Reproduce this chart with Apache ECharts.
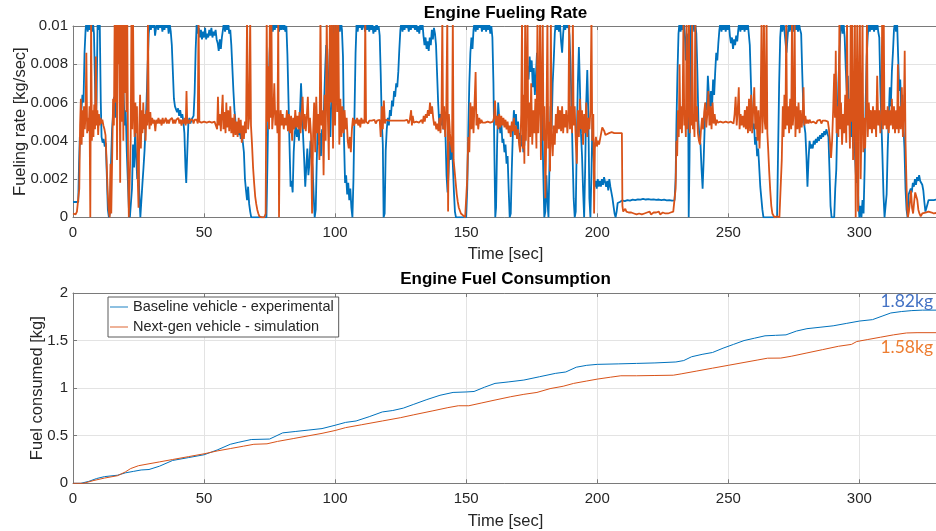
<!DOCTYPE html>
<html>
<head>
<meta charset="utf-8">
<script src="https://cdn.jsdelivr.net/npm/echarts@6/dist/echarts.min.js"></script>
<style>html,body{margin:0;padding:0;background:#fff;}#c{width:936px;height:531px;}</style>
</head>
<body>
<div id="c"></div>
<script>
// ---- Tick labels / axis settings (data-side) ----
const timeTicks = [0, 50, 100, 150, 200, 250, 300];
const rateTicks = [0, 0.002, 0.004, 0.006, 0.008, 0.01];
const fuelTicks = [0, 0.5, 1, 1.5, 2];
const seriesNames = ['Baseline vehicle - experimental', 'Next-gen vehicle - simulation'];

// ---- Engine fueling rate, [time s, rate g/s] (converted to kg/s for plotting) ----
const baselineRate = [[0,0.8],[0.5,0.85],[1,0.8],[1.5,0.85],[2,0.8],[2.3,2.8],[2.6,4.2],[2.9,3.8],[3.2,5.6],[3.6,6.4],[4,6],[4.4,8.6],[4.8,9.8],[5.2,10.3],[5.6,9.7],[6,10.2],[6.4,9.8],[6.8,10.3],[7.2,9.7],[7.6,10.2],[8,9.6],[8.4,7],[8.7,5],[9,6.2],[9.4,10.3],[9.8,9.8],[10.2,10.2],[10.6,6],[10.9,4.2],[11.3,3.9],[11.7,4.1],[12.1,3.7],[12.5,3.9],[12.9,2.2],[13.3,0.4],[13.7,0],[14.1,0.2],[14.5,2.8],[14.9,4.6],[15.3,5.4],[15.7,6.3],[16.1,5.2],[16.5,7.8],[16.9,10.2],[17.3,9.8],[17.7,10.3],[18.1,8],[18.5,10.2],[18.9,9.7],[19.3,6.5],[19.7,4.8],[20.1,5.6],[20.5,3.5],[20.9,2],[21.3,0.5],[21.7,0],[22.1,0],[22.5,1.5],[22.9,3.8],[23.3,2.6],[23.7,4.4],[24.1,3.2],[24.5,2],[24.9,3],[25.3,1.2],[25.7,0],[26.1,0],[26.5,1.8],[26.9,2.6],[27.3,3.5],[27.7,4.8],[28.1,6.2],[28.5,8],[28.9,9.6],[29.3,10.2],[29.7,9.8],[30.1,10.2],[30.5,9.9],[30.9,10.3],[31.3,9.5],[31.7,9.9],[32.1,10.2],[32.5,9.8],[32.9,10.3],[33.3,9.9],[33.7,10.2],[34.1,9.7],[34.5,10.1],[34.9,9.8],[35.3,10.3],[35.7,9.9],[36.1,10.2],[36.5,9.6],[36.9,10.1],[37.3,9.7],[37.7,9],[38.1,7.6],[38.5,6.2],[38.9,5.8],[39.3,5.9],[39.7,5.5],[40.1,5.7],[40.5,5.3],[40.9,5.6],[41.3,5.2],[41.7,5.4],[42.1,5],[42.5,4.4],[42.9,2.6],[43.2,1.8],[43.6,3.4],[44,4.9],[44.4,5.2],[44.8,4.9],[45.2,5.1],[45.6,5],[46,5.3],[46.4,6.5],[46.8,8.8],[47.2,10.2],[47.6,9.6],[48,9.9],[48.4,9.4],[48.8,9.8],[49.2,9.3],[49.6,9.7],[50,9.4],[50.4,9.9],[50.8,9.3],[51.2,9.6],[51.6,9.4],[52,9.8],[52.4,9.5],[52.8,9.9],[53.2,9.4],[53.6,9.7],[54,9.5],[54.4,9.8],[54.8,9.3],[55.2,9.1],[55.6,8.7],[56,9.3],[56.4,8.8],[56.8,9.4],[57.2,9.8],[57.6,10.2],[58,9.7],[58.4,10.1],[58.8,9.8],[59.2,10.2],[59.6,9.6],[60,9.8],[60.4,9],[60.8,7.8],[61.2,6.6],[61.6,5.6],[62,5],[62.4,4.6],[62.8,4.9],[63.2,4.3],[63.6,4.6],[64,4.1],[64.4,4.4],[64.8,3.9],[65.2,3.4],[65.6,2],[66,1.4],[66.4,0.9],[66.8,1.6],[67.2,0.7],[67.6,0.3],[68,0],[70,0],[72,0],[73.8,0],[74.2,3],[74.6,6.5],[75,8.6],[75.4,9.8],[75.8,10.2],[76.2,9.7],[76.6,10.2],[77,9.8],[77.4,10.3],[77.8,9.9],[78.2,10.2],[78.6,9.7],[79,10.1],[79.4,9.8],[79.8,10.3],[80.2,9.8],[80.6,10.1],[81,9.7],[81.4,10],[81.8,8.5],[82.2,6.2],[82.6,3.8],[83,1.6],[83.4,1.9],[83.8,1.3],[84.2,3.4],[84.6,4.4],[85,4.8],[85.4,4.2],[85.8,4.6],[86.2,4],[86.6,5.5],[87,7],[87.4,5.6],[87.8,4.2],[88.2,3],[88.6,1.6],[89,2.6],[89.4,3.6],[89.8,2.2],[90.2,2.8],[90.6,4],[91,3.2],[91.4,2.6],[91.8,1.2],[92.2,0],[92.6,0.4],[93,3],[93.4,5],[93.8,3.8],[94.2,4.4],[94.6,3.2],[95,4.6],[95.4,4.2],[95.8,6],[96.2,7.7],[96.6,9],[97,8.8],[97.4,7.2],[97.8,5.6],[98.2,4.2],[98.6,6.5],[99,8.8],[99.4,10.2],[99.8,9.6],[100.2,10.1],[100.6,8],[101,9.8],[101.4,10.2],[101.8,9.7],[102.2,10.3],[102.6,9.8],[103,8.4],[103.4,4],[103.8,1.8],[104.2,2.2],[104.6,1.2],[105,1.8],[105.4,0.9],[105.8,1.5],[106.2,0.5],[106.6,0],[107,2],[107.4,5.5],[107.8,8.6],[108.2,10.2],[108.6,9.7],[109,10.2],[109.4,9.9],[109.8,10.3],[110.2,9.8],[110.6,9.9],[111,10.2],[111.4,9.7],[111.8,10.1],[112.2,9.8],[112.6,10.3],[113,9.7],[113.4,10.2],[113.8,9.8],[114.2,10.1],[114.6,9.6],[115,10],[115.4,9.7],[115.8,10.2],[116.2,9.8],[116.6,10],[117,9.5],[117.4,7.5],[117.8,5],[118.2,3.8],[118.5,0],[118.9,0.2],[119.3,3.5],[119.7,4.6],[120.1,5.2],[120.5,4.8],[120.9,5.6],[121.3,5.3],[121.7,6.1],[122.1,5.8],[122.5,6.6],[122.9,6.3],[123.3,7],[123.7,6.8],[124.1,7.6],[124.5,8.8],[124.9,9.8],[125.3,10.2],[125.7,9.7],[126.1,10.2],[126.5,9.8],[126.9,10.3],[127.3,9.9],[127.7,10.1],[128.1,9.7],[128.5,10.2],[128.9,9.8],[129.3,10.3],[129.7,9.9],[130.1,10.1],[130.5,9.8],[130.9,10.2],[131.3,9.7],[131.7,10],[132.1,9.6],[132.5,10.1],[132.9,9.8],[133.3,10.2],[133.7,9.5],[134.1,9],[134.5,9.4],[134.9,8.8],[135.3,9.2],[135.7,8.7],[136.1,9.4],[136.5,9],[136.9,9.8],[137.3,9.3],[137.7,9.9],[138.1,9.6],[138.5,9],[138.9,7.5],[139.3,6],[139.7,4.9],[140.1,5.4],[140.5,4.8],[140.9,5.2],[141.3,4.6],[141.7,5],[142.1,4.3],[142.5,2.2],[142.9,1.3],[143.3,2.4],[143.7,4],[144.1,3],[144.5,4.2],[144.9,2.8],[145.3,1.4],[145.7,0.3],[146.1,0],[148,0],[150,0],[150.4,1.5],[150.8,4.5],[151.2,7],[151.6,8.6],[152,9.4],[152.4,8.8],[152.8,9.8],[153.2,10.2],[153.6,9.7],[154,10.2],[154.4,9.8],[154.8,10.3],[155.2,9.9],[155.6,10.2],[156,9.7],[156.4,10.1],[156.8,9.8],[157.2,10.3],[157.6,9.7],[158,10.2],[158.4,9.8],[158.8,10.1],[159.2,9.6],[159.6,10],[160,9.4],[160.4,7],[160.8,3],[161.1,0],[161.4,0.5],[161.8,3.8],[162.2,6],[162.6,5.2],[163,4.4],[163.4,5],[163.8,3.9],[164.2,4.1],[164.6,3.4],[165,3.8],[165.4,2.8],[165.8,3.2],[166.2,1.5],[166.6,0],[167,0.2],[167.4,2.5],[167.8,4.4],[168.2,5.6],[168.6,4.8],[169,5.4],[169.4,4.2],[169.8,5],[170.2,3.9],[170.6,4.4],[171,3.7],[171.4,4.3],[171.8,3.4],[172.2,3.8],[172.6,4.8],[173,6.6],[173.4,7.9],[173.8,7.2],[174.2,8.4],[174.6,7.6],[175,8.2],[175.4,6.8],[175.8,7.8],[176.2,6.4],[176.6,7.4],[177,8.6],[177.4,7],[177.8,7.6],[178.2,6.8],[178.6,7.4],[179,5.2],[179.4,2.4],[179.8,0],[180.2,0.3],[180.6,2.2],[181,0.8],[181.4,0],[181.8,3],[182.2,5.8],[182.6,4.6],[183,7],[183.4,8.2],[183.8,9.6],[184.2,10.2],[184.6,9.8],[185,10.2],[185.4,9.7],[185.8,10.1],[186.2,9.2],[186.6,8.6],[187,9.6],[187.4,10.2],[187.8,9.8],[188.2,10.3],[188.6,9.9],[189,10.1],[189.4,9.5],[189.8,8],[190.2,5.8],[190.6,3.2],[191,1],[191.4,0],[191.8,0.3],[192.2,4],[192.6,7],[193,8.9],[193.4,6.8],[193.8,4.4],[194.2,3.2],[194.6,1.4],[195,0],[195.4,2.6],[195.8,6],[196.2,7.7],[196.6,5.4],[197,1],[197.4,0],[197.8,2.4],[198.2,5.2],[198.6,3.4],[199,1.6],[199.4,1.9],[199.8,1.5],[200.2,2],[200.6,1.6],[201,1.9],[201.4,1.6],[201.8,2],[202.2,1.7],[202.6,2.1],[203,2.2],[203.4,1.6],[203.8,1.9],[204.2,1.4],[204.6,2],[205,1.6],[205.4,1.3],[205.8,1],[206.2,0.6],[206.6,0.2],[207,0],[207.4,0.3],[207.8,0.75],[208.2,0.85],[208.6,0.8],[209.5,0.88],[210.5,0.85],[211.5,0.9],[212.5,0.87],[213.5,0.92],[214.5,0.9],[215.5,0.94],[216.5,0.92],[217.5,0.96],[218.5,0.93],[219.5,0.95],[220.5,0.92],[221.5,0.94],[222.5,0.91],[223.5,0.93],[224.5,0.9],[225.5,0.92],[226.5,0.88],[227.5,0.9],[228.5,0.87],[229.5,0.89],[229.9,2],[230.2,4.8],[230.6,7.5],[231,9.6],[231.4,10.2],[231.8,9.7],[232.2,10.2],[232.6,9.8],[233,10.3],[233.4,9.6],[233.8,8.2],[234.2,9.6],[234.6,9],[234.9,0],[235.2,3],[235.5,8],[235.8,10.2],[236.2,9.8],[236.6,10.3],[237,9.7],[237.4,10.1],[237.8,9.6],[238.2,7.6],[238.6,5],[239,4.2],[239.4,3.8],[239.8,2.5],[240.2,1.5],[240.6,3],[241,4.8],[241.4,6],[241.8,5.6],[242.2,7.4],[242.6,6.4],[243,5.6],[243.4,6.6],[243.8,5.8],[244.2,7.2],[244.6,6.4],[245,7.6],[245.4,8.6],[245.8,8.2],[246.2,9.1],[246.6,9.8],[247,10.2],[247.4,9.7],[247.8,10.2],[248.2,9.8],[248.6,10.3],[249,9.7],[249.4,10.1],[249.8,9.8],[250.2,10.2],[250.6,9.5],[251,9.1],[251.4,9.4],[251.8,8.8],[252.2,9.3],[252.6,9],[253,9.5],[253.4,9.2],[253.8,9.8],[254.2,10.2],[254.6,9.7],[255,10.1],[255.4,9.8],[255.8,10.3],[256.2,9.7],[256.6,10.1],[257,9.8],[257.4,10.2],[257.8,9.6],[258.2,9],[258.6,7.2],[259,5.4],[259.4,4.6],[259.8,4.9],[260.2,3.8],[260.6,4.2],[261,3.2],[261.4,3.6],[261.8,2.6],[262.2,1.6],[262.6,1],[263,0.4],[263.4,0],[266,0],[268.6,0],[269,3.5],[269.4,7],[269.8,9.4],[270.2,10.2],[270.6,9.7],[271,10.2],[271.4,9.8],[271.8,9.2],[272.2,8.6],[272.6,9.4],[273,10.1],[273.4,9.7],[273.8,10.2],[274.2,9.8],[274.6,10.3],[275,9.7],[275.4,10.1],[275.8,9.8],[276.2,10.2],[276.6,9.7],[277,10.1],[277.4,9.8],[277.8,9.6],[278.2,7.6],[278.6,5.8],[279,4.8],[279.4,4.4],[279.8,3.2],[280.2,1.6],[280.6,3],[281,4],[281.4,3.6],[281.8,3.8],[282.2,3.6],[282.6,4],[283,3.8],[283.4,4.1],[283.8,3.9],[284.2,4.2],[284.6,4],[285,4.3],[285.4,4.1],[285.8,4.4],[286.2,4.2],[286.6,4.5],[287,4.3],[287.4,4.6],[287.8,4.4],[288.2,4.2],[288.6,2.5],[289,0.6],[289.4,0],[290.4,0],[290.8,1.5],[291.2,2.5],[291.6,5],[292,7],[292.4,8.5],[292.8,9.8],[293.2,10.2],[293.6,9.6],[294,10.1],[294.4,9.4],[294.8,7.8],[295.2,6.6],[295.6,7.4],[296,5.2],[296.4,6],[296.8,4.2],[297.2,5.4],[297.6,3.6],[298,4.6],[298.4,3],[298.8,1.8],[299.2,2.6],[299.6,0.8],[300,0],[300.4,0.6],[300.8,0],[301.2,0.9],[301.6,0.2],[302,2.5],[302.4,6],[302.8,8.4],[303.2,9.5],[303.6,10.2],[304,9.7],[304.4,10.2],[304.8,9.8],[305.2,10.3],[305.6,9.7],[306,10.1],[306.4,9.8],[306.8,10.2],[307.2,9.7],[307.6,9.4],[308,6.8],[308.4,5],[308.8,3.2],[309.2,1.2],[309.6,0],[310,0],[310.4,1.2],[310.8,3.5],[311.2,5.2],[311.6,6.8],[312,5.8],[312.4,7.6],[312.8,8.6],[313.2,9.8],[313.6,10.2],[314,9.7],[314.4,10.2],[314.8,8.4],[315.2,6.6],[315.6,7.2],[316,5.4],[316.4,6.4],[316.8,4.8],[317.2,3.6],[317.6,1.5],[318,0.4],[318.4,0],[318.8,1.2],[319.2,1.1],[319.6,1.5],[320,1.3],[320.4,1.8],[320.8,1.6],[321.2,2],[321.6,1.7],[322,2.1],[322.4,1.9],[322.8,2.2],[323.2,1.9],[323.6,2],[324,1.7],[324.4,1.4],[324.8,0.8],[325.2,0.3],[325.6,0.2],[326,0.7],[326.4,0.9],[326.8,1],[327.2,0.9],[327.6,1],[328.4,0.9],[330,0.95]];

const nextGenRate = [[0,0.2],[0.5,0.3],[1,0.15],[1.5,0.3],[2,0.2],[2.4,1.5],[2.7,4.8],[3,6.2],[3.3,3.8],[3.6,5.6],[3.9,4.2],[4.2,5.8],[4.5,4.6],[4.8,5.4],[5.1,8.6],[5.4,4.4],[5.7,5.2],[6,4.5],[6.3,5.8],[6.6,0],[6.9,10.5],[7.2,4],[7.5,5.6],[7.8,4.2],[8.1,5.9],[8.4,4.6],[8.7,8.4],[9,4.8],[9.3,5.6],[9.6,4.3],[9.9,5.4],[10.2,4.8],[10.5,5.2],[10.8,4.9],[11.2,5.1],[11.6,4.8],[12,4.6],[12.4,4.3],[12.8,3],[13.2,1.4],[13.6,0.4],[14,0],[14.3,2.8],[14.6,0.2],[15,3.6],[15.3,6.2],[15.6,4.8],[15.9,10.5],[16.2,6],[16.5,10.5],[16.8,3],[17.1,10.5],[17.4,8],[17.7,10.5],[18,1.8],[18.3,10.5],[18.6,5],[18.9,10.5],[19.2,4],[19.5,10.5],[19.8,6.5],[20.1,10.5],[20.4,5.5],[20.7,10.5],[21,3],[21.3,0],[21.7,0],[22,4],[22.3,10.5],[22.6,4.6],[22.9,10.5],[23.2,5.5],[23.5,4.2],[23.8,6],[24.1,4.4],[24.4,5.8],[24.7,2],[25,0.5],[25.3,4.8],[25.6,6.4],[25.9,3.6],[26.2,5.6],[26.5,4.4],[26.8,6],[27.1,4.6],[27.4,5.4],[27.7,4],[28,5.6],[28.3,4.8],[28.6,10.5],[28.9,5.2],[29.2,4.6],[29.5,5.5],[29.8,4.8],[30.2,5.2],[30.6,4.9],[31,5.1],[31.4,4.5],[31.8,5.1],[32.2,4.9],[32.6,5.2],[33,4.9],[33.4,5.1],[33.8,4.8],[34.2,5.2],[34.6,4.9],[35,5],[35.4,5.2],[35.8,4.9],[36.2,5.1],[36.6,4.9],[37,5.1],[37.4,5],[37.8,5.2],[38.2,4.9],[38.6,5.1],[39,4.9],[39.4,5.1],[39.8,5],[40.2,5.2],[40.6,4.9],[41,5.1],[41.4,4.8],[41.8,5.1],[42.2,4.9],[42.6,5.2],[43,4.8],[43.3,6.6],[43.6,4.9],[44,5.1],[44.4,4.9],[44.8,5.1],[45.2,5],[45.6,5.1],[46,4.9],[46.4,5.1],[46.8,5],[47.2,5.1],[47.6,4.9],[47.9,10.5],[48.2,5],[48.6,5.1],[49,4.95],[49.5,5.05],[50,5],[50.5,5.05],[51,4.95],[51.5,5.05],[52,5],[52.5,5.05],[53,4.95],[53.5,5.05],[54,5],[54.5,5.1],[55,4.6],[55.3,6.3],[55.6,4.8],[56,5.4],[56.4,4.5],[56.8,5.6],[57.1,6.4],[57.4,4.6],[57.8,5.5],[58.2,4.4],[58.5,6],[58.8,4.7],[59.2,5.6],[59.6,4.5],[60,5.8],[60.4,4.4],[60.8,5.2],[61.2,4.2],[61.6,5.4],[62,4.3],[62.4,5],[62.8,4.2],[63.2,5.2],[63.6,4.4],[64,5.1],[64.4,3.9],[64.8,4.8],[65.2,4.1],[65.6,5],[66,4.4],[66.4,10.5],[66.8,4.6],[67.2,5.2],[67.6,10.5],[67.9,4.8],[68.3,3.8],[68.7,2.6],[69.1,1.8],[69.5,1.1],[69.9,0.7],[70.3,0.4],[70.7,0.2],[71.1,0.05],[71.5,0],[72,0],[72.5,0],[73,0],[73.5,0.2],[73.9,10.5],[74.2,5],[74.5,7.9],[74.8,4.6],[75.1,10.5],[75.4,5.2],[75.7,10.5],[76,4.6],[76.4,5.4],[76.8,7],[77.2,4.8],[77.6,5.6],[78,4.4],[78.3,10.5],[78.6,0],[78.9,4.6],[79.2,5.6],[79.6,4.8],[80,5.4],[80.4,4.6],[80.8,5.2],[81.2,4.8],[81.6,5.6],[82,4.5],[82.4,5.4],[82.8,4.4],[83.2,5.3],[83.6,4],[84,5.2],[84.4,4.6],[84.8,5.6],[85.2,4.7],[85.6,5.3],[86,4.6],[86.4,5.5],[86.8,4.4],[87.2,5.2],[87.6,6.3],[88,4.6],[88.4,5.4],[88.8,4.5],[89.2,5.3],[89.6,6.3],[90,4.4],[90.4,5.2],[90.8,4.3],[91.2,0.2],[91.6,4.4],[92,6],[92.4,3.4],[92.8,6.3],[93.2,4.4],[93.6,5.4],[94,3],[94.4,10.5],[94.8,4.8],[95.2,5.6],[95.6,2.2],[96,6.4],[96.4,4],[96.8,10.5],[97.2,5.4],[97.6,3],[98,10.5],[98.4,6],[98.8,10.5],[99.2,3.6],[99.6,10.5],[100,4.8],[100.4,10.5],[100.8,5.5],[101.2,10.5],[101.6,3.8],[102,6.2],[102.4,4.2],[102.8,5.8],[103.2,4.4],[103.6,5.6],[104,4.6],[104.4,5.2],[104.8,4],[105.2,3.6],[105.6,4.2],[106,3.4],[106.4,4.6],[106.8,5.2],[107.2,4.8],[107.6,5.1],[108,4.9],[108.4,5.2],[108.8,4.8],[109.2,5.1],[109.6,4.7],[110,5.2],[110.4,4.9],[110.8,5.1],[111.2,4.9],[111.5,10.5],[111.8,5],[112.2,5.1],[112.6,4.9],[113,5.05],[113.5,4.95],[114,5.05],[114.5,4.95],[115,5.1],[115.5,4.9],[116,5.05],[116.5,4.95],[117,5.1],[117.4,4.2],[117.8,5.8],[118.2,4.6],[118.6,6.1],[119,4.9],[119.4,5.1],[120,5],[120.5,5.05],[121,4.95],[121.5,5.05],[122,5],[122.5,5.05],[123,4.95],[123.5,5.05],[124,5],[124.5,5.05],[125,4.95],[125.5,5.05],[126,5],[126.5,5.05],[127,4.95],[127.5,5.1],[128,4.9],[128.5,5.1],[129,5.6],[129.3,4.8],[129.6,5.3],[130,4.95],[130.5,5.05],[131,5],[131.5,5.05],[132,4.95],[132.5,5.05],[133,5.1],[133.4,4.9],[133.8,5.3],[134.2,5],[134.6,5.4],[135,5.2],[135.4,5.6],[135.8,5.3],[136.2,6],[136.6,5.4],[137,5.8],[137.4,5.2],[137.8,4.8],[138.2,5],[138.6,4.6],[139,4.9],[139.4,4.5],[139.8,5.2],[140.2,4.4],[140.6,5.6],[140.9,10.5],[141.2,4.6],[141.6,5.8],[142,4.2],[142.4,5.6],[142.8,10.5],[143.1,0.3],[143.4,5.4],[143.8,4.4],[144.2,3.8],[144.6,3.4],[144.9,10.5],[145.2,3],[145.6,2.4],[146,1.8],[146.4,1.2],[146.8,0.8],[147.2,0.5],[147.6,0.4],[148,0.2],[148.4,0.3],[148.8,0.1],[149.2,0],[149.6,0],[150,0.1],[150.4,2],[150.8,4.2],[151.2,3.4],[151.6,6],[152,4.6],[152.4,5.8],[152.8,4.4],[153.2,6],[153.6,7.6],[153.9,4.8],[154.2,5.4],[154.6,4.6],[155,5.2],[155.4,4.9],[155.8,5.1],[156.2,4.95],[156.7,5.05],[157.2,4.95],[157.7,5.05],[158.2,5],[158.7,5.05],[159.2,4.95],[159.7,5.05],[160.2,5],[160.6,5.2],[161,6.1],[161.4,4.8],[161.8,5.3],[162.2,4.6],[162.6,5.4],[163,4.7],[163.4,5.3],[163.8,4.8],[164.2,5.2],[164.6,4.7],[165,5.1],[165.4,4.6],[165.8,5],[166.2,4.4],[166.6,4.8],[167,4.2],[167.4,5],[167.8,4.5],[168.2,5.2],[168.6,4.3],[169,4.8],[169.4,4.1],[169.8,4.6],[170.2,3.8],[170.6,3.4],[171,5.4],[171.3,10.5],[171.6,3.6],[171.9,6.4],[172.2,2.8],[172.5,10.5],[172.8,4],[173.1,6.8],[173.4,10.5],[173.7,3.2],[174,6],[174.4,4.2],[174.8,7],[175.2,3.8],[175.6,5.6],[176,4.4],[176.4,6.2],[176.8,3.6],[177.2,10.5],[177.5,4.4],[177.8,5.8],[178.2,10.5],[178.5,3],[178.8,6],[179.2,10.5],[179.5,4],[179.8,5.8],[180.2,1],[180.6,4.6],[181,10.5],[181.3,3.6],[181.6,5],[182,2.4],[182.3,10.5],[182.6,4.2],[183,3.2],[183.4,4.8],[183.8,3.8],[184.2,5.4],[184.6,4.4],[185,5.8],[185.4,4.6],[185.8,5.6],[186.2,4.5],[186.6,5.8],[187,4.4],[187.4,5.4],[187.8,4.7],[188.2,5.6],[188.6,4.4],[189,5.3],[189.3,10.5],[189.6,4.6],[190,5.8],[190.4,4.4],[190.7,10.5],[191,4.8],[191.4,5.8],[191.8,4],[192.2,2.8],[192.6,5.6],[193,4.2],[193.4,6.2],[193.8,4.6],[194.2,5.6],[194.6,3.8],[195,5.4],[195.4,4.4],[195.8,6],[196.2,4.2],[196.6,5.2],[197,4.6],[197.4,5.6],[197.8,10.5],[198.1,4],[198.5,5.4],[198.8,0.2],[199.1,3.6],[199.5,4.2],[199.9,3.7],[200.3,4],[200.7,3.8],[201.1,4.1],[201.5,4.4],[201.9,4.7],[202.3,4.8],[202.7,4.5],[203.1,4.3],[203.5,4.4],[204.5,4.4],[205.5,4.45],[206.5,4.4],[207.5,4.4],[208.5,4.4],[209.4,4.4],[209.6,0.6],[209.9,0.3],[210.3,0.35],[210.7,0.45],[211.1,0.3],[211.5,0.2],[212,0.25],[212.5,0.15],[213,0.25],[213.5,0.15],[214,0.2],[214.5,0.3],[215,0.15],[215.5,0.25],[216,0.2],[216.5,0.3],[217,0.15],[217.5,0.25],[218,0.2],[218.5,0.15],[219,0.25],[219.5,0.2],[220,0.3],[220.5,0.15],[221,0.2],[221.5,0.25],[222,0.15],[222.5,0.25],[223,0.2],[223.5,0.3],[224,0.15],[224.5,0.2],[225,0.25],[225.5,0.15],[226,0.2],[226.5,0.3],[227,0.2],[227.5,0.15],[228,0.25],[228.5,0.2],[229,0.3],[229.5,0.2],[229.9,1.5],[230.2,4],[230.5,3.2],[230.8,5.6],[231.1,4.2],[231.4,8],[231.7,4.6],[232,5.8],[232.3,4.4],[232.6,6],[232.9,10.5],[233.2,4.8],[233.5,5.6],[233.8,4.2],[234.1,10.5],[234.4,4.6],[234.7,5.8],[235,10.5],[235.3,4.4],[235.6,5.6],[235.9,4.8],[236.2,10.5],[236.5,4.6],[236.8,5.4],[237.1,4.2],[237.4,10.5],[237.7,5],[238,5.8],[238.4,4.4],[238.8,4],[239.2,3.8],[239.6,4.6],[240,5.2],[240.4,4.6],[240.8,5.5],[241.2,6],[241.6,4.7],[242,5.4],[242.4,6.6],[242.8,4.8],[243.2,5.8],[243.6,4.6],[244,6],[244.4,4.9],[244.8,5.4],[245.2,4.8],[245.6,5.1],[246,4.95],[246.5,5.05],[247,5],[247.5,5.05],[248,4.95],[248.5,5.05],[249,5],[249.5,5.05],[250,4.95],[250.5,5.05],[251,5],[251.5,5.1],[252,4.9],[252.4,5.4],[252.8,6.3],[253.2,4.8],[253.6,5.6],[254,6.8],[254.3,4.6],[254.7,5.4],[255.1,4.8],[255.5,5.3],[255.9,4.7],[256.3,5.6],[256.7,4.6],[257.1,5.8],[257.5,4.4],[257.9,6.2],[258.3,4.5],[258.7,6.4],[259.1,4.4],[259.5,5.6],[259.9,6.8],[260.3,4.6],[260.7,5.8],[261.1,4],[261.5,5.6],[261.9,3.6],[262.3,5.4],[262.7,10.5],[263,4.4],[263.3,5.8],[263.6,10.5],[263.9,5],[264.2,4.6],[264.6,10.5],[264.9,4.4],[265.2,3.6],[265.6,2.4],[266,1.4],[266.4,0.6],[266.8,0.2],[267.2,0.1],[267.6,0],[268,0],[268.5,0.05],[269,0],[269.5,0],[270,0.1],[270.4,3],[270.8,5.8],[271.1,4.2],[271.4,6.4],[271.8,4.6],[272.1,10.5],[272.4,4.8],[272.8,5.8],[273.2,4.4],[273.6,6.2],[274,4.6],[274.3,10.5],[274.6,4.8],[275,5.6],[275.3,10.5],[275.6,4.2],[276,5.8],[276.4,4.6],[276.8,6],[277.2,4.4],[277.6,5.6],[278,4.7],[278.4,5.4],[278.7,6.8],[279,4.8],[279.4,5.3],[279.8,4.9],[280.2,5.1],[280.6,4.9],[281,5.1],[281.5,4.95],[282,5.05],[282.5,5],[283,5.1],[283.5,4.9],[284,5.05],[284.5,4.95],[285,5.1],[285.5,4.9],[286,5.05],[286.5,4.95],[287,5.05],[287.5,4.95],[288,5],[288.4,4.6],[288.8,3.9],[289.2,3.1],[289.6,4],[290,5.6],[290.4,7.5],[290.7,5.2],[291,8.7],[291.3,4.4],[291.6,5.8],[292,4.2],[292.4,10.5],[292.7,4.6],[293,6],[293.4,3.8],[293.8,5.4],[294.2,4.4],[294.6,6.4],[295,3.9],[295.3,10.5],[295.6,4.8],[296,6.2],[296.4,3.6],[296.7,10.5],[297,5],[297.3,10.5],[297.6,3],[298,6],[298.3,10.5],[298.6,0],[298.9,5.4],[299.2,10.5],[299.5,0.3],[299.8,6.4],[300.2,10.5],[300.5,2],[300.8,4.6],[301.2,10.5],[301.5,3.4],[301.8,5.2],[302.2,3.6],[302.6,5.8],[302.9,10.5],[303.2,4.2],[303.6,6],[304,4.6],[304.4,5.6],[304.8,4.4],[305.2,5.8],[305.6,4.6],[306,5.6],[306.4,4.2],[306.8,7.4],[307.2,4.8],[307.6,5.6],[308,4.4],[308.4,5.4],[308.7,10.5],[309,4.6],[309.3,10.5],[309.6,4.8],[310,5.6],[310.4,4.6],[310.8,5.8],[311.2,4.4],[311.6,5.6],[312,4.8],[312.4,6.2],[312.8,4.6],[313.2,5.8],[313.6,4.4],[314,5.6],[314.4,4.6],[314.7,8],[315,4.4],[315.4,5.8],[315.8,4.6],[316.2,6.8],[316.6,4.2],[317,5.6],[317.3,8.7],[317.6,4],[317.9,2.2],[318.2,0.6],[318.5,0],[318.9,0.3],[319.3,0.8],[319.7,1.4],[320.1,0.5],[320.5,0.2],[320.9,0.8],[321.3,1.3],[321.7,1.1],[322.1,0.9],[322.5,0.4],[322.9,0.2],[323.4,0.05],[324,0.2],[324.6,0.15],[325.2,0.25],[325.8,0.2],[326.4,0.3],[327,0.2],[327.6,0.25],[328.4,0.2],[330,0.25]];

// ---- Cumulative engine fuel consumption, [time s, kg] ----
const baselineFuel = [[0,0],[3,0],[6,0.02],[9,0.05],[12,0.07],[17,0.085],[20,0.11],[23,0.125],[26,0.14],[29,0.145],[33,0.18],[38,0.24],[44,0.27],[50,0.3],[55,0.35],[60,0.41],[63,0.43],[68,0.46],[75,0.465],[80,0.53],[85,0.545],[90,0.56],[95,0.575],[100,0.61],[104,0.64],[108,0.655],[113,0.7],[118,0.75],[122,0.765],[126,0.79],[130,0.83],[135,0.88],[140,0.925],[145,0.955],[150,0.96],[153,0.965],[157,1.01],[161,1.05],[166,1.065],[172,1.085],[178,1.12],[184,1.155],[188,1.17],[192,1.22],[196,1.24],[200,1.25],[208,1.255],[215,1.26],[222,1.265],[230,1.275],[233,1.29],[236,1.33],[240,1.355],[244,1.375],[248,1.42],[252,1.46],[256,1.5],[260,1.525],[264,1.55],[268,1.555],[272,1.56],[276,1.6],[280,1.625],[285,1.64],[290,1.655],[295,1.68],[300,1.705],[305,1.72],[309,1.76],[312,1.79],[316,1.805],[320,1.815],[324,1.82],[330,1.82]];
const nextGenFuel = [[0,0],[4,0],[8,0.03],[12,0.055],[17,0.08],[20,0.12],[22,0.155],[25,0.185],[29,0.205],[33,0.225],[38,0.25],[44,0.28],[50,0.31],[55,0.34],[60,0.365],[65,0.39],[69,0.41],[74,0.415],[78,0.44],[84,0.47],[90,0.5],[95,0.525],[100,0.555],[104,0.585],[110,0.615],[118,0.655],[125,0.69],[130,0.72],[137,0.76],[143,0.795],[147,0.815],[151,0.815],[156,0.845],[161,0.875],[167,0.91],[172,0.935],[177,0.955],[182,0.995],[187,1.02],[191,1.05],[196,1.075],[200,1.095],[205,1.115],[209,1.13],[215,1.13],[222,1.133],[229,1.136],[232,1.15],[238,1.18],[244,1.21],[250,1.24],[256,1.27],[261,1.295],[265,1.315],[270,1.316],[274,1.335],[280,1.37],[286,1.405],[292,1.44],[297,1.46],[299,1.49],[303,1.51],[308,1.535],[313,1.56],[318,1.58],[322,1.583],[330,1.583]];

// ---- Build chart ----
const BLUE = '#0072BD', ORANGE = '#D95319';
const FONT = "'Liberation Sans', Arial, Helvetica, sans-serif";
const AX = '#7a7a7a', TXT = '#262626', GRIDC = '#e3e3e3';
const LINE_ICON = 'path://M0 0H20V1H0Z';
const toKgPerSec = arr => arr.map(p => [p[0], p[1] / 1000]);
const lastOf = arr => arr[arr.length - 1];

const tMin = timeTicks[0], tStep = timeTicks[1] - timeTicks[0], tMax = 330;

function xAxisMain(gridIndex, gap) {
  return {
    type: 'value', gridIndex, min: tMin, max: tMax, interval: tStep,
    name: 'Time [sec]', nameLocation: 'middle', nameGap: gap, nameMoveOverlap: false,
    nameTextStyle: { fontFamily: FONT, fontSize: 16.5, color: TXT },
    axisLine: { show: true, onZero: false, lineStyle: { color: AX, width: 1 } },
    axisTick: { show: true, inside: true, length: 4, lineStyle: { color: AX } },
    axisLabel: { fontFamily: FONT, fontSize: 15, color: TXT, margin: 8, showMaxLabel: false },
    splitLine: { show: true, lineStyle: { color: GRIDC, width: 1 } }
  };
}
function xAxisTop(gridIndex) {
  return {
    type: 'value', gridIndex, position: 'top', min: tMin, max: tMax, interval: tStep,
    axisLine: { show: true, onZero: false, lineStyle: { color: AX, width: 1 } },
    axisTick: { show: true, inside: true, length: 4, lineStyle: { color: AX } },
    axisLabel: { show: false }, splitLine: { show: false }
  };
}
function yAxis(gridIndex, ticks, name, gap) {
  return {
    type: 'value', gridIndex, min: ticks[0], max: ticks[ticks.length - 1],
    interval: ticks[1] - ticks[0],
    name, nameLocation: 'middle', nameGap: gap, nameRotate: 90, nameMoveOverlap: false,
    nameTextStyle: { fontFamily: FONT, fontSize: 16.5, color: TXT },
    axisLine: { show: true, onZero: false, lineStyle: { color: AX, width: 1 } },
    axisTick: { show: true, inside: true, length: 4, lineStyle: { color: AX } },
    axisLabel: { fontFamily: FONT, fontSize: 15, color: TXT, margin: 5 },
    splitLine: { show: true, lineStyle: { color: GRIDC, width: 1 } }
  };
}

const chart = echarts.init(document.getElementById('c'), null, { renderer: 'canvas' });
chart.setOption({
  animation: false,
  backgroundColor: '#ffffff',
  title: [
    { text: 'Engine Fueling Rate', left: 500.5, top: 0, textAlign: 'center',
      textStyle: { fontFamily: FONT, fontSize: 17, fontWeight: 'bold', color: '#000' } },
    { text: 'Engine Fuel Consumption', left: 500.5, top: 266, textAlign: 'center',
      textStyle: { fontFamily: FONT, fontSize: 17, fontWeight: 'bold', color: '#000' } }
  ],
  grid: [
    { left: 73, top: 26, width: 865, height: 191.3, containLabel: false, outerBoundsMode: 'none' },
    { left: 73, top: 293, width: 865, height: 190.3, containLabel: false, outerBoundsMode: 'none' }
  ],
  xAxis: [xAxisMain(0, 29), xAxisTop(0), xAxisMain(1, 30), xAxisTop(1)],
  yAxis: [
    yAxis(0, rateTicks, 'Fueling rate [kg/sec]', 44),
    yAxis(1, fuelTicks, 'Fuel consumed [kg]', 27)
  ],
  legend: {
    data: seriesNames.map(n => ({ name: n, icon: LINE_ICON })),
    orient: 'vertical', left: 108, top: 297,
    itemWidth: 18, itemHeight: 14, itemGap: 4, selectedMode: false,
    padding: [2, 5, 2, 2],
    backgroundColor: '#fff', borderColor: '#5a5a5a', borderWidth: 1,
    textStyle: { fontFamily: FONT, fontSize: 14.5, color: TXT, lineHeight: 16 }
  },
  series: [
    { name: 'Baseline fueling rate', type: 'line', xAxisIndex: 0, yAxisIndex: 0,
      data: toKgPerSec(baselineRate), showSymbol: false, symbol: 'none', clip: true,
      lineStyle: { color: BLUE, width: 1.8 }, itemStyle: { color: BLUE }, z: 2 },
    { name: 'Next-gen fueling rate', type: 'line', xAxisIndex: 0, yAxisIndex: 0,
      data: toKgPerSec(nextGenRate), showSymbol: false, symbol: 'none', clip: true,
      lineStyle: { color: ORANGE, width: 1.8 }, itemStyle: { color: ORANGE }, z: 3 },
    { name: seriesNames[0], type: 'line', xAxisIndex: 2, yAxisIndex: 1,
      data: baselineFuel, showSymbol: false, symbol: 'none', clip: false,
      lineStyle: { color: BLUE, width: 1 }, itemStyle: { color: BLUE },
      markPoint: { symbol: 'circle', symbolSize: 0, silent: true,
        data: [{ coord: lastOf(baselineFuel), value: lastOf(baselineFuel)[1] }],
        label: { show: true, position: 'left', distance: 0, offset: [-5, -9],
          formatter: p => p.value.toFixed(2) + 'kg',
          fontFamily: "Lato, 'Liberation Sans', sans-serif", fontSize: 17.5, color: '#4472C4' } } },
    { name: seriesNames[1], type: 'line', xAxisIndex: 2, yAxisIndex: 1,
      data: nextGenFuel, showSymbol: false, symbol: 'none', clip: false,
      lineStyle: { color: ORANGE, width: 1 }, itemStyle: { color: ORANGE },
      markPoint: { symbol: 'circle', symbolSize: 0, silent: true,
        data: [{ coord: lastOf(nextGenFuel), value: lastOf(nextGenFuel)[1] }],
        label: { show: true, position: 'left', distance: 0, offset: [-5, 15],
          formatter: p => p.value.toFixed(2) + 'kg',
          fontFamily: "Lato, 'Liberation Sans', sans-serif", fontSize: 17.5, color: '#ED7D31' } } }
  ]
});
</script>
</body>
</html>
